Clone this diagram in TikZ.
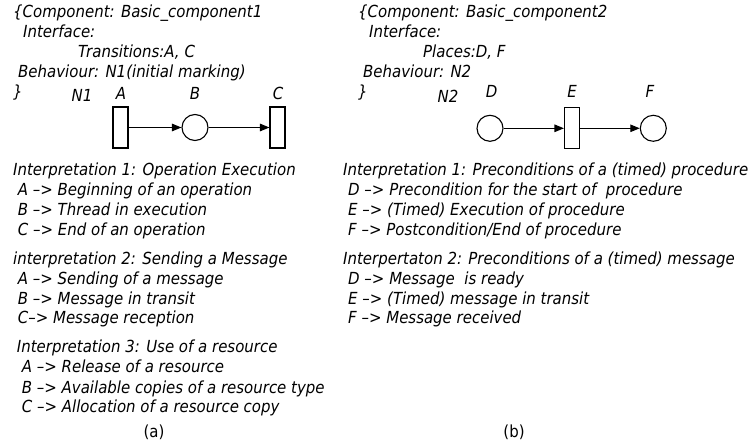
\documentclass[tikz,border=0pt]{standalone}
\usepackage{fontspec}
\setmainfont{DejaVu Sans}[FakeStretch=0.9]
\usetikzlibrary{arrows.meta}
\newlength\reflen
\begin{document}
\settowidth{\reflen}{\fontsize{10bp}{12bp}\selectfont\itshape Interpretation 1: Preconditions of a (timed) procedure}
\pgfmathsetmacro\fsz{10*405*1.00375/\reflen}
\begin{tikzpicture}[x=1bp,y=-1bp]
\tikzset{
  txt/.style={anchor=base west,inner sep=0pt,font=\fontsize{\fsz bp}{\fsz bp}\selectfont\itshape},
  lab/.style={anchor=base,inner sep=0pt,font=\fontsize{\fsz bp}{\fsz bp}\selectfont\itshape},
  subcap/.style={anchor=base,inner sep=0pt,font=\fontsize{\fsz bp}{\fsz bp}\selectfont},
  trans/.style={draw,line width=1.1bp,minimum width=15bp,minimum height=41bp,inner sep=0pt},
  place/.style={draw,circle,line width=1.1bp,minimum size=26bp,inner sep=0pt},
  arc/.style={line width=1.1bp,-{Triangle[length=9.5bp,width=7.5bp]}}
}
\useasboundingbox (0,0) rectangle (752,444);
% ---- (a) header
\node[txt] (h1) at (13,18) {\{Component: Basic\_component1};
\node[txt] (h2) at (23,38) {Interface:};
\node[txt] (h3) at (78,58) {Transitions:A, C};
\node[txt] (h4) at (18,78) {Behaviour: N1(initial marking)};
\node[txt] (h5) at (13,98) {\}};
% ---- net N1
\node[lab] (n1) at (82,101.5) {N1};
\node[trans] (A) at (120.5,127.5) {};
\node[place] (B) at (195,127.5) {};
\node[trans] (C) at (277.5,127.5) {};
\node[lab] (la) at (121,100) {A};
\node[lab] (lb) at (195,100) {B};
\node[lab] (lc) at (278,100) {C};
\draw[arc] (A) -- (B);
\draw[arc] (B) -- (C);
% ---- (b) header
\node[txt] (k1) at (358,18) {\{Component: Basic\_component2};
\node[txt] (k2) at (369,38) {Interface:};
\node[txt] (k3) at (423,58) {Places:D, F};
\node[txt] (k4) at (363,78) {Behaviour: N2};
\node[txt] (k5) at (358,98) {\}};
% ---- net N2
\node[lab] (n2) at (448,103) {N2};
\node[place] (D) at (490,128.3) {};
\node[trans] (E) at (572,128.3) {};
\node[place] (F) at (653.3,128.3) {};
\node[lab] (ld) at (491.7,98) {D};
\node[lab] (le) at (572,98) {E};
\node[lab] (lf) at (650,98) {F};
\draw[arc] (D) -- (E);
\draw[arc] (E) -- (F);
% ---- (a) interpretations
\node[txt] (a1) at (13,176) {Interpretation 1: Operation Execution};
\node[txt] (a2) at (17.7,196) {A –> Beginning of an operation};
\node[txt] (a3) at (17.7,216) {B –> Thread in execution};
\node[txt] (a4) at (17.7,235.5) {C –> End of an operation};
\node[txt] (a5) at (13,265) {interpretation 2: Sending a Message};
\node[txt] (a6) at (17.7,285) {A –> Sending of a message};
\node[txt] (a7) at (17.7,304.5) {B –> Message in transit};
\node[txt] (a8) at (17.7,324) {C–> Message reception};
\node[txt] (a9) at (16.7,353) {Interpretation 3: Use of a resource};
\node[txt] (a10) at (21.7,373) {A –> Release of a resource};
\node[txt] (a11) at (21.7,393) {B –> Available copies of a resource type};
\node[txt] (a12) at (21.7,412.5) {C –> Allocation of a resource copy};
\node[subcap] (ca) at (154,437) {(a)};
% ---- (b) interpretations
\node[txt] (b1) at (343,176) {Interpretation 1: Preconditions of a (timed) procedure};
\node[txt] (b2) at (348,196) {D –> Precondition for the start of\ \ procedure};
\node[txt] (b3) at (348,216) {E –> (Timed) Execution of procedure};
\node[txt] (b4) at (348,235.5) {F –> Postcondition/End of procedure};
\node[txt] (b5) at (343,265) {Interpertaton 2: Preconditions of a (timed) message};
\node[txt] (b6) at (348,285) {D –> Message\ \ is ready};
\node[txt] (b7) at (348,304.5) {E –> (Timed) message in transit};
\node[txt] (b8) at (348,324) {F –> Message received};
\node[subcap] (cb) at (514,437) {(b)};
\end{tikzpicture}
\end{document}
